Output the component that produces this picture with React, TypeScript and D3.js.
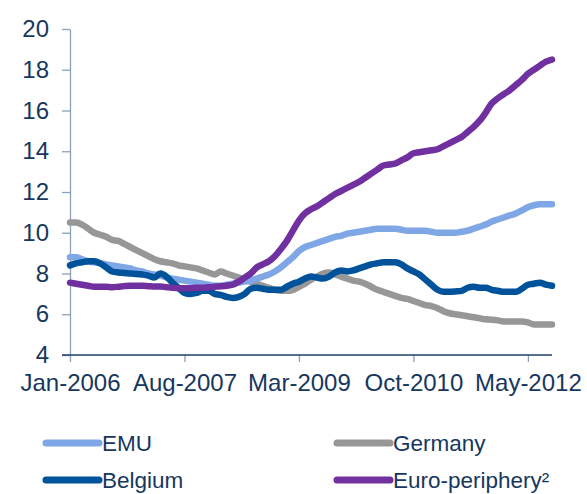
import { useRef, useEffect } from 'react'
import * as d3 from 'd3'

// monthly series, Jan-2006 .. Sep-2012
const emu = [
  8.8, 8.8, 8.7, 8.6, 8.55, 8.5, 8.45, 8.4, 8.35, 8.3, 8.25, 8.15, 8.1, 8.0, 7.95, 7.9, 7.8, 7.75, 7.7, 7.65,
  7.6, 7.55, 7.5, 7.45, 7.4, 7.4, 7.45, 7.5, 7.55, 7.6, 7.65, 7.75, 7.85, 7.95, 8.1, 8.3, 8.55, 8.8, 9.1, 9.3,
  9.4, 9.5, 9.6, 9.7, 9.8, 9.85, 9.95, 10.0, 10.05, 10.1, 10.15, 10.2, 10.2, 10.2, 10.2, 10.15, 10.1, 10.1, 10.1, 10.1,
  10.05, 10.0, 10.0, 10.0, 10.0, 10.05, 10.1, 10.2, 10.3, 10.4, 10.55, 10.65, 10.75, 10.85, 10.95, 11.1, 11.25, 11.35, 11.4, 11.4, 11.4,
]
const germany = [
  10.5, 10.5, 10.4, 10.2, 10.0, 9.9, 9.8, 9.65, 9.6, 9.45, 9.3, 9.15, 9.0, 8.85, 8.7, 8.6, 8.55, 8.5, 8.4, 8.35,
  8.3, 8.25, 8.15, 8.05, 7.95, 8.1, 8.0, 7.9, 7.8, 7.7, 7.6, 7.5, 7.4, 7.3, 7.2, 7.15, 7.15, 7.2, 7.35, 7.5,
  7.7, 7.85, 8.0, 8.05, 7.95, 7.85, 7.75, 7.65, 7.6, 7.5, 7.35, 7.2, 7.1, 7.0, 6.9, 6.8, 6.75, 6.65, 6.55, 6.45,
  6.4, 6.3, 6.15, 6.05, 6.0, 5.95, 5.9, 5.85, 5.8, 5.75, 5.73, 5.7, 5.65, 5.65, 5.65, 5.65, 5.6, 5.5, 5.5, 5.5, 5.5,
]
const belgium = [
  8.4, 8.5, 8.55, 8.6, 8.6, 8.5, 8.3, 8.1, 8.05, 8.03, 8.0, 7.98, 7.95, 7.9, 7.8, 8.0, 7.85, 7.55, 7.3, 7.05,
  7.0, 7.05, 7.15, 7.15, 7.0, 6.95, 6.85, 6.8, 6.85, 7.0, 7.25, 7.3, 7.25, 7.2, 7.2, 7.2, 7.35, 7.5, 7.6, 7.75,
  7.85, 7.8, 7.75, 7.85, 8.05, 8.15, 8.1, 8.15, 8.25, 8.35, 8.45, 8.5, 8.55, 8.55, 8.55, 8.45, 8.25, 8.1, 7.95, 7.7,
  7.45, 7.2, 7.1, 7.1, 7.12, 7.15, 7.3, 7.35, 7.3, 7.3, 7.2, 7.15, 7.1, 7.1, 7.1, 7.25, 7.45, 7.5, 7.55, 7.45, 7.4,
]
const periphery = [
  7.55, 7.5, 7.45, 7.4, 7.35, 7.35, 7.35, 7.33, 7.35, 7.38, 7.4, 7.4, 7.4, 7.38, 7.36, 7.36, 7.33, 7.3, 7.28, 7.28,
  7.28, 7.3, 7.3, 7.33, 7.35, 7.37, 7.4, 7.45, 7.6, 7.8, 8.0, 8.3, 8.45, 8.6, 8.85, 9.2, 9.6, 10.1, 10.6, 10.95,
  11.15, 11.3, 11.5, 11.7, 11.9, 12.05, 12.2, 12.35, 12.5, 12.7, 12.9, 13.1, 13.3, 13.35, 13.4, 13.55, 13.7, 13.9, 13.95, 14.0,
  14.05, 14.1, 14.25, 14.4, 14.55, 14.7, 14.95, 15.2, 15.5, 15.9, 16.35, 16.6, 16.8, 17.0, 17.25, 17.5, 17.8, 18.0, 18.2, 18.4, 18.5,
]

const seriesNames = ['EMU', 'Germany', 'Belgium', 'Euro-periphery²']
const xTickLabels = ['Jan-2006', 'Aug-2007', 'Mar-2009', 'Oct-2010', 'May-2012']
const yTicks = [4, 6, 8, 10, 12, 14, 16, 18, 20]

const colors = {
  'EMU': '#7fa7e6',
  'Germany': '#979797',
  'Belgium': '#00529b',
  'Euro-periphery²': '#7030a0',
}
const textColor = '#17375e'
const font = "'Liberation Sans', Arial, sans-serif"

export default function App() {
  const svgRef = useRef(null)

  useEffect(() => {
    const w = 587
    const h = 494
    const svg = d3.select(svgRef.current)
    svg.selectAll('*').remove()
    svg.attr('width', w).attr('height', h)

    const months = d3.timeMonth
      .range(new Date(2006, 0, 1), new Date(2006, emu.length, 1))
      .map(d3.timeFormat('%b-%Y'))

    const x = d3.scaleLinear().domain([0, months.length - 1]).range([70, 552])
    const y = d3.scaleLinear().domain([4, 20]).range([355, 29])

    // y axis
    const yAxis = svg.append('g')
      .attr('transform', 'translate(70,0)')
      .call(d3.axisLeft(y).tickValues(yTicks).tickSize(8).tickSizeOuter(0).tickPadding(13))
    yAxis.selectAll('path, line').attr('stroke', '#8aa0bb').attr('stroke-width', 1.3)
    yAxis.selectAll('text')
      .attr('fill', textColor)
      .style('font-family', font)
      .style('font-size', '24px')

    // x axis
    const xAxis = svg.append('g')
      .attr('transform', 'translate(0,355)')
      .call(d3.axisBottom(x)
        .tickValues(xTickLabels.map(l => months.indexOf(l)))
        .tickFormat(i => months[i])
        .tickSize(7).tickSizeOuter(0).tickPadding(12))
    xAxis.selectAll('line').attr('stroke', '#8aa0bb').attr('stroke-width', 1.3)
    xAxis.selectAll('text')
      .attr('fill', textColor)
      .style('font-family', font)
      .style('font-size', '24px')
    // baseline of the plot, running through the y tick at 4
    xAxis.select('path').remove()
    svg.append('line')
      .attr('x1', 62).attr('x2', x(months.length - 1))
      .attr('y1', y(4)).attr('y2', y(4))
      .attr('stroke', '#1f3f6b')
      .attr('stroke-width', 1.3)

    // lines
    const line = d3.line()
      .x((d, i) => x(i))
      .y(d => y(d))
      .curve(d3.curveMonotoneX)

    const drawOrder = [
      ['Germany', germany],
      ['EMU', emu],
      ['Belgium', belgium],
      ['Euro-periphery²', periphery],
    ]
    svg.selectAll('.series')
      .data(drawOrder)
      .join('path')
      .attr('class', 'series')
      .attr('d', d => line(d[1]))
      .attr('fill', 'none')
      .attr('stroke', d => colors[d[0]])
      .attr('stroke-width', 6.5)
      .attr('stroke-linejoin', 'round')
      .attr('stroke-linecap', 'round')

    // legend, two columns
    const legend = svg.append('g')
    seriesNames.forEach((name, i) => {
      const lx = i % 2 === 0 ? 46 : 337
      const ly = i < 2 ? 443 : 480
      legend.append('line')
        .attr('x1', lx).attr('x2', lx + 53)
        .attr('y1', ly).attr('y2', ly)
        .attr('stroke', colors[name])
        .attr('stroke-width', 7)
        .attr('stroke-linecap', 'round')
      legend.append('text')
        .attr('x', lx + 56)
        .attr('y', ly + 8)
        .attr('fill', textColor)
        .style('font-family', font)
        .style('font-size', '22.5px')
        .text(name)
    })
  }, [])

  return (
    <svg ref={svgRef} style={{ position: 'absolute', left: 0, top: 0, background: '#fff' }}></svg>
  )
}
